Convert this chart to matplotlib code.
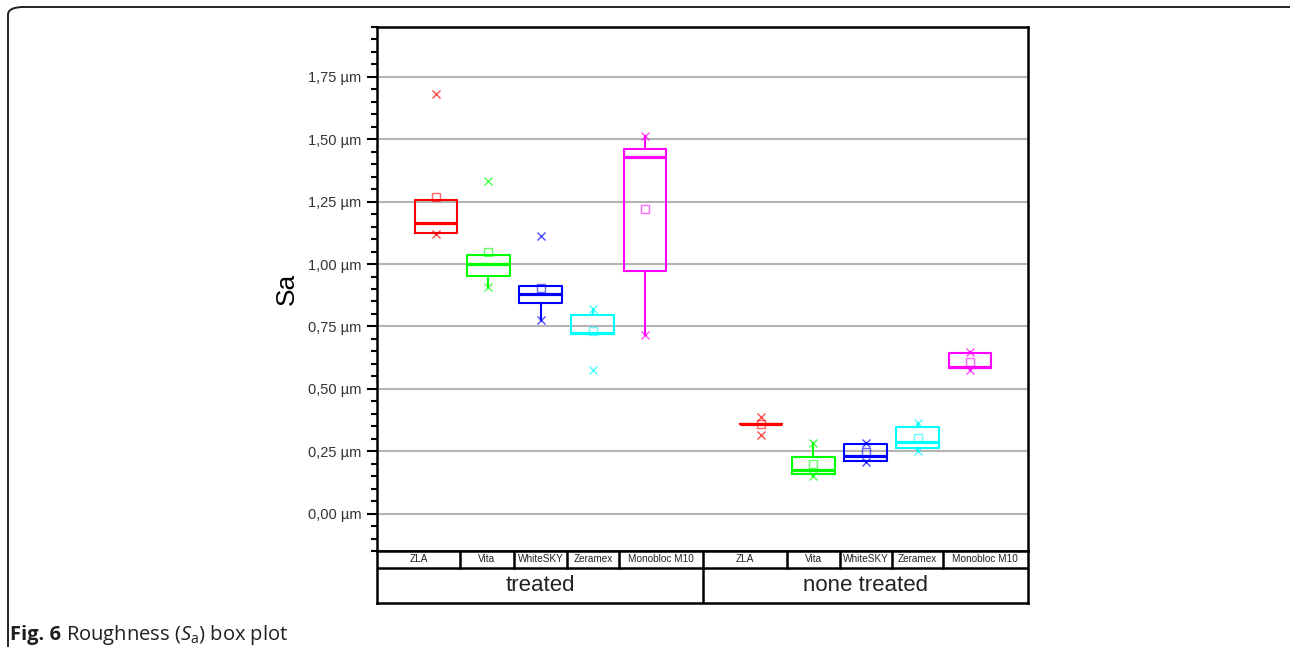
import matplotlib
matplotlib.use("Agg")
import matplotlib.pyplot as plt
from matplotlib.patches import FancyBboxPatch
from matplotlib.ticker import MultipleLocator, FuncFormatter

plt.rcParams['font.family'] = ['Liberation Sans', 'DejaVu Sans']

# Box plot statistics (Sa in µm)
groups = ['treated', 'none treated']
materials = ['ZLA', 'Vita', 'WhiteSKY', 'Zeramex', 'Monobloc M10']
colors = ['#ff0000', '#00ff00', '#0000ff', '#00ffff', '#ff00ff']

treated_q1 = [1.126, 0.952, 0.843, 0.719, 0.972]
treated_med = [1.165, 1.002, 0.879, 0.722, 1.430]
treated_q3 = [1.257, 1.038, 0.911, 0.796, 1.460]
treated_whislo = [1.120, 0.909, 0.775, 0.719, 0.714]
treated_whishi = [1.257, 1.038, 0.911, 0.820, 1.515]
treated_mean = [1.270, 1.049, 0.905, 0.730, 1.219]
treated_min = [1.120, 0.909, 0.775, 0.575, 0.714]
treated_max = [1.680, 1.331, 1.113, 0.820, 1.515]

none_q1 = [0.359, 0.159, 0.212, 0.262, 0.584]
none_med = [0.359, 0.175, 0.232, 0.285, 0.587]
none_q3 = [0.359, 0.225, 0.280, 0.345, 0.642]
none_whislo = [0.359, 0.152, 0.205, 0.250, 0.574]
none_whishi = [0.359, 0.284, 0.284, 0.361, 0.647]
none_mean = [0.358, 0.200, 0.245, 0.302, 0.608]
none_min = [0.314, 0.152, 0.205, 0.250, 0.574]
none_max = [0.389, 0.284, 0.284, 0.361, 0.647]

positions = [1, 2, 3, 4, 5, 7.22, 8.22, 9.22, 10.22, 11.22]
# cell edges of the category table (x units of the plot)
cell_edges = [-0.13, 1.46, 2.49, 3.51, 4.50, 6.11, 7.72, 8.73, 9.73, 10.70, 12.33]
xlim = (-0.13, 12.33)


def build_stats():
	stats = []
	sets = [(treated_q1, treated_med, treated_q3, treated_whislo, treated_whishi, treated_mean),
			(none_q1, none_med, none_q3, none_whislo, none_whishi, none_mean)]
	for q1s, meds, q3s, los, his, means in sets:
		for i in range(len(materials)):
			stats.append({'q1': q1s[i], 'med': meds[i], 'q3': q3s[i],
						  'whislo': los[i], 'whishi': his[i], 'mean': means[i],
						  'fliers': []})
	return stats


def main():
	fig = plt.figure(figsize=(12.9, 6.47), dpi=100)
	W, H = 1290, 647

	# rounded frame around the figure (open to the right and bottom)
	frame = FancyBboxPatch((8 / W, -0.2), 1300 / W, 1.2 - 7 / H,
						   boxstyle="round,pad=0,rounding_size=0.012",
						   transform=fig.transFigure, fill=False,
						   edgecolor='#222222', linewidth=1.4, clip_on=False)
	fig.patches.append(frame)

	left, right, top, bottom = 377, 1028, 27, 551
	ax = fig.add_axes([left / W, 1 - bottom / H, (right - left) / W, (bottom - top) / H])

	stats = build_stats()
	art = ax.bxp(stats, positions=positions, widths=0.82, showfliers=False,
				 showcaps=False, showmeans=False,
				 boxprops=dict(linewidth=1.5), medianprops=dict(linewidth=2.3),
				 whiskerprops=dict(linewidth=1.5))
	cols = colors + colors
	for i, c in enumerate(cols):
		art['boxes'][i].set_color(c)
		art['medians'][i].set_color(c)
		art['whiskers'][2 * i].set_color(c)
		art['whiskers'][2 * i + 1].set_color(c)

	means = treated_mean + none_mean
	mins = treated_min + none_min
	maxs = treated_max + none_max
	for i, c in enumerate(cols):
		ax.plot(positions[i], means[i], marker='s', ms=5.5, mfc='none', mec=c, mew=1.0, alpha=0.6)
		ax.plot([positions[i], positions[i]], [mins[i], maxs[i]], ls='none', marker='x',
				ms=6, mec=c, mew=1.0, alpha=0.7)

	ax.set_xlim(*xlim)
	ax.set_ylim(-0.15, 1.95)
	ax.set_xticks([])
	ax.yaxis.set_major_locator(MultipleLocator(0.25))
	ax.yaxis.set_minor_locator(MultipleLocator(0.05))
	ax.yaxis.set_major_formatter(FuncFormatter(lambda v, p: ("%.2f µm" % v).replace('.', ',')))
	ax.tick_params(axis='y', which='major', length=7, width=1.5, labelsize=10.5, pad=4,
				   labelcolor='#333333')
	ax.tick_params(axis='y', which='minor', length=4, width=1.5)
	ax.grid(axis='y', which='major', color='#b4b4b4', linewidth=1.5)
	ax.set_axisbelow(True)
	for s in ax.spines.values():
		s.set_linewidth(1.8)
	ax.set_ylabel('Sa', fontsize=19, labelpad=7)

	# category table below the plot
	tb_top, tb_mid, tb_bot = 551, 568, 603
	tab = fig.add_axes([left / W, 1 - tb_bot / H, (right - left) / W, (tb_bot - tb_top) / H])
	tab.set_xlim(*xlim)
	tab.set_ylim(0, 1)
	tab.set_xticks([])
	tab.set_yticks([])
	for s in tab.spines.values():
		s.set_linewidth(1.8)
	split = (tb_bot - tb_mid) / (tb_bot - tb_top)
	tab.axhline(split, color='k', linewidth=1.8)
	for e in cell_edges[1:-1]:
		if e == cell_edges[5]:
			tab.axvline(e, color='k', linewidth=1.8)
		else:
			tab.axvline(e, ymin=split, ymax=1, color='k', linewidth=1.8)
	for j in range(10):
		cx = (cell_edges[j] + cell_edges[j + 1]) / 2
		tab.text(cx, (split + 1) / 2, materials[j % 5], ha='center', va='center', fontsize=7.2,
				 color='#222222')
	for g, name in enumerate(groups):
		cx = (cell_edges[g * 5] + cell_edges[g * 5 + 5]) / 2
		tab.text(cx, split / 2, name, ha='center', va='center', fontsize=16, color='#222222')

	# caption
	r = fig.canvas.get_renderer()
	t1 = fig.text(10 / W, 1 - 640 / H, "Fig. 6", fontsize=14.5, fontweight='bold',
				  family=['Open Sans', 'DejaVu Sans'], color='#231f20', va='baseline')
	bb = t1.get_window_extent(renderer=r)
	plt.rcParams['mathtext.fontset'] = 'custom'
	plt.rcParams['mathtext.rm'] = 'Open Sans'
	plt.rcParams['mathtext.it'] = 'Open Sans:italic'
	fig.text((bb.x1 + 5) / W, 1 - 640 / H, r"Roughness ($S_\mathrm{a}$) box plot", fontsize=14.5,
			 family=['Open Sans', 'DejaVu Sans'], color='#231f20', va='baseline')

	plt.savefig("out.png", dpi=100)


if __name__ == "__main__":
	main()
